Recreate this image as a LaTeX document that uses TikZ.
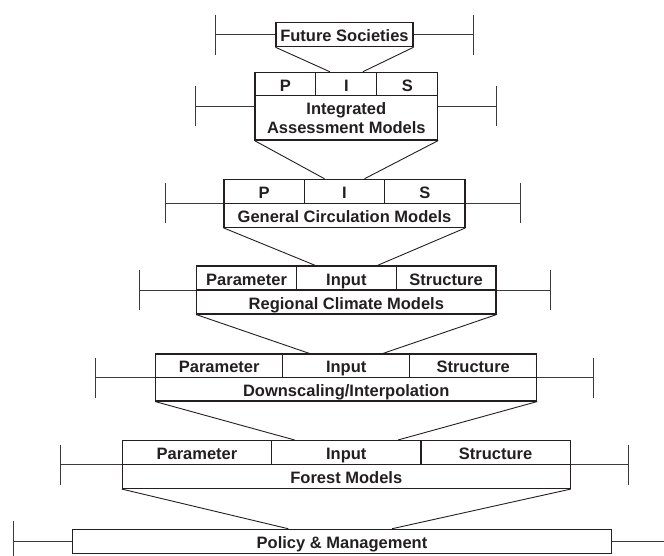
\documentclass[tikz,border=0pt]{standalone}
\usepackage{fontspec}
\setmainfont{Liberation Sans}
\definecolor{ink}{HTML}{231F20}
\definecolor{barc}{HTML}{3A3A3A}
\begin{document}
\begin{tikzpicture}[x=1pt,y=-1pt,
  boxbase/.style={draw=ink, line width=1.1pt, rectangle, inner sep=0pt,
    font=\fontsize{16.5}{19}\selectfont\bfseries, text=ink, align=center},
  box/.style={boxbase, text height=14.4pt, text depth=0pt},
  link/.style={draw=ink, line width=0.9pt},
  bar/.style={draw=barc, line width=0.9pt}]
\clip (0,0) rectangle (664,556);

% ---------- Future Societies
\node[box, minimum width=137pt, minimum height=24pt] (fut) at (344.5,34.7) {Future Societies};

% ---------- Integrated Assessment Models
\node[box, minimum width=60.9pt, minimum height=23.4pt] (iamP) at (285.45,84) {P};
\node[box, minimum width=60.9pt, minimum height=23.4pt] (iamI) at (346.35,84) {I};
\node[box, minimum width=60.9pt, minimum height=23.4pt] (iamS) at (407.25,84) {S};
\node[boxbase, minimum width=182.7pt, minimum height=44.3pt] (iam) at (346.35,117.85) {Integrated\\Assessment Models};

% ---------- General Circulation Models
\node[box, minimum width=80.33pt, minimum height=24pt] (gcmP) at (264.17,191.3) {P};
\node[box, minimum width=80.33pt, minimum height=24pt] (gcmI) at (344.5,191.3) {I};
\node[box, minimum width=80.33pt, minimum height=24pt] (gcmS) at (424.83,191.3) {S};
\node[box, minimum width=241pt, minimum height=24pt] (gcm) at (344.5,215.3) {General Circulation Models};

% ---------- Regional Climate Models
\node[box, minimum width=99.77pt, minimum height=24pt] (rcmP) at (246.58,278) {Parameter};
\node[box, minimum width=99.77pt, minimum height=24pt] (rcmI) at (346.35,278) {Input};
\node[box, minimum width=99.77pt, minimum height=24pt] (rcmS) at (446.12,278) {Structure};
\node[box, minimum width=299.3pt, minimum height=24pt] (rcm) at (346.35,302) {Regional Climate Models};

% ---------- Downscaling/Interpolation
\node[box, minimum width=127pt, minimum height=23.5pt] (dsP) at (219.2,365.75) {Parameter};
\node[box, minimum width=127pt, minimum height=23.5pt] (dsI) at (346.2,365.75) {Input};
\node[box, minimum width=127pt, minimum height=23.5pt] (dsS) at (473.2,365.75) {Structure};
\node[box, minimum width=381pt, minimum height=23.5pt] (ds) at (346.2,389.25) {Downscaling/Interpolation};

% ---------- Forest Models
\node[box, minimum width=149.33pt, minimum height=24pt] (forP) at (196.97,452.5) {Parameter};
\node[box, minimum width=149.33pt, minimum height=24pt] (forI) at (346.3,452.5) {Input};
\node[box, minimum width=149.33pt, minimum height=24pt] (forS) at (495.63,452.5) {Structure};
\node[box, minimum width=448pt, minimum height=24pt] (for) at (346.3,476.5) {Forest Models};

% ---------- Policy & Management
\node[box, minimum width=538.6pt, minimum height=24pt] (pol) at (342,541.3) {Policy \& Management};

% ---------- funnels
\draw[link] (fut.south west) -- ([xshift=-16.5pt]iamI.north);
\draw[link] (fut.south east) -- ([xshift=16.5pt]iamI.north);
\draw[link] (iam.south west) -- ([xshift=-20pt]gcmI.north);
\draw[link] (iam.south east) -- ([xshift=20pt]gcmI.north);
\draw[link] (gcm.south west) -- ([xshift=-31pt]rcmI.north);
\draw[link] (gcm.south east) -- ([xshift=31pt]rcmI.north);
\draw[link] (rcm.south west) -- ([xshift=-36.7pt]dsI.north);
\draw[link] (rcm.south east) -- ([xshift=36.7pt]dsI.north);
\draw[link] (ds.south west) -- ([xshift=-51.8pt]forI.north);
\draw[link] (ds.south east) -- ([xshift=51.8pt]forI.north);
\draw[link] (for.south west) -- ([xshift=-53.7pt]pol.north);
\draw[link] (for.south east) -- ([xshift=50pt]pol.north);

% ---------- error bars
\coordinate (futL) at (215,34.7);   \coordinate (futR) at (473,34.7);
\coordinate (iamL) at (195,106.5);  \coordinate (iamR) at (496.7,106.5);
\coordinate (gcmL) at (165,203.3);  \coordinate (gcmR) at (520,203.3);
\coordinate (rcmL) at (139,290);    \coordinate (rcmR) at (550,290);
\coordinate (dsL) at (95.7,377.5);  \coordinate (dsR) at (593.3,377.5);
\coordinate (forL) at (60.3,464.5); \coordinate (forR) at (628,464.5);
\coordinate (polL) at (13.3,541.3); \coordinate (polR) at (671,541.3);

\draw[bar] (futL) -- (futL -| fut.west)  (futR) -- (futR -| fut.east);
\draw[bar] (iamL) -- (iamL -| iam.west)  (iamR) -- (iamR -| iam.east);
\draw[bar] (gcmL) -- (gcmL -| gcm.west)  (gcmR) -- (gcmR -| gcm.east);
\draw[bar] (rcmL) -- (rcmL -| rcm.west)  (rcmR) -- (rcmR -| rcm.east);
\draw[bar] (dsL) -- (dsL -| ds.west)     (dsR) -- (dsR -| ds.east);
\draw[bar] (forL) -- (forL -| for.west)  (forR) -- (forR -| for.east);
\draw[bar] (polL) -- (polL -| pol.west)  (polR) -- (polR -| pol.east);

\foreach \c in {futL,futR,iamL,iamR,gcmL,gcmR,rcmL,rcmR,dsL,dsR,forL,forR,polL,polR}
  \draw[bar] ([yshift=20pt]\c) -- ([yshift=-20pt]\c);
\end{tikzpicture}
\end{document}
